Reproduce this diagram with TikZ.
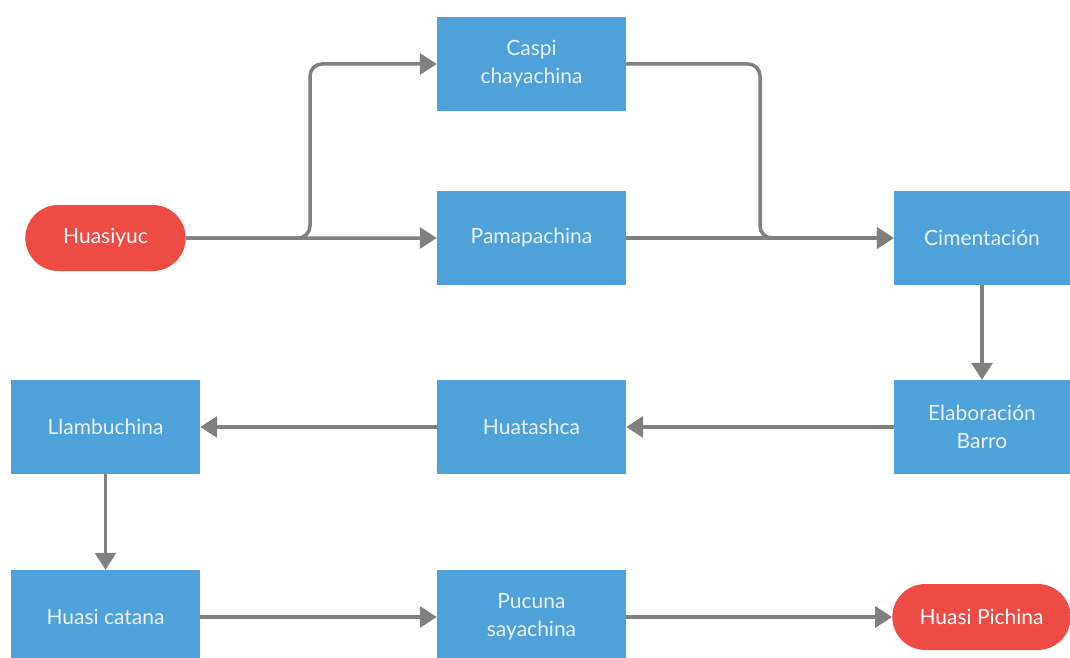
\documentclass[tikz,border=0pt]{standalone}
\usepackage{fontspec}
\setmainfont{Lato}
\usetikzlibrary{arrows.meta,shapes.misc}
\definecolor{boxblue}{HTML}{4FA1DA}
\definecolor{pillred}{HTML}{EE4B45}
\definecolor{linegray}{HTML}{808080}
\definecolor{boxtext}{HTML}{EAF0F5}
\begin{document}
\begin{tikzpicture}[x=1pt,y=-1pt,
    step box/.style={rectangle,fill=boxblue,text=boxtext,minimum width=189pt,minimum height=94pt,align=center,font=\fontsize{21}{28}\selectfont},
    wide box/.style={step box,minimum width=176pt},
    end node/.style={rounded rectangle,fill=pillred,text=white,minimum height=66pt,font=\fontsize{21}{28}\selectfont},
    flow/.style={draw=linegray,line width=3.5pt,-{Triangle[length=17pt,width=21pt]}}]
                \useasboundingbox (0,0) rectangle (1070,658);
                \node[end node,minimum width=167pt] at (105.5, 238) (huasiyuc) {Huasiyuc};
                \node[step box] at (531.5, 64) (caspi) {Caspi\\chayachina};
                \node[step box] at (531.5, 238) (pama) {Pamapachina};
                \node[wide box] at (982, 238) (ciment) {Cimentación};
                \node[wide box] at (982, 427) (elab) {Elaboración\\Barro};
                \node[step box] at (531.5, 427) (huata) {Huatashca};
                \node[step box] at (105.5, 427) (llambu) {Llambuchina};
                \node[step box] at (105.5, 617) (catana) {Huasi catana};
                \node[step box] at (531.5, 617) (pucuna) {Pucuna\\sayachina};
                \node[end node,minimum width=185pt] at (981.5, 617) (pichina) {Huasi Pichina};

                \coordinate (split) at (310, 238);
                \coordinate (join) at (760, 64);

                \draw[flow, rounded corners=12pt] (huasiyuc.east) -- (split) |- (caspi.west);
                \draw[flow, rounded corners=12pt] (caspi.east) -- (join) |- (ciment.west);
                \path[every edge/.style={flow}]
                    (huasiyuc) edge (pama)
                    (pama) edge (ciment)
                    (ciment) edge (elab)
                    (elab) edge (huata)
                    (huata) edge (llambu)
                    (llambu) edge (catana)
                    (catana) edge (pucuna)
                    (pucuna) edge (pichina)
                    ;
            \end{tikzpicture}
\end{document}
